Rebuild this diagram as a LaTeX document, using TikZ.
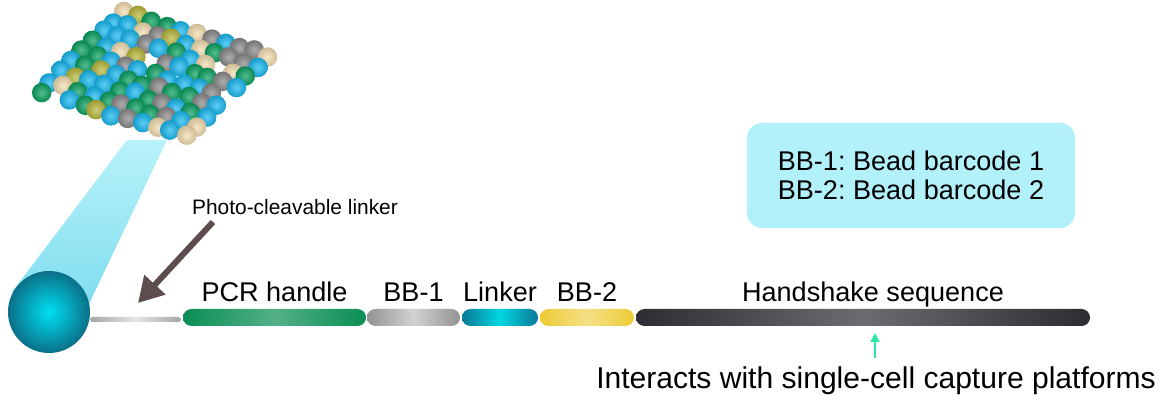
\documentclass[tikz,border=0pt]{standalone}
\usepackage{fontspec}
\setmainfont{Liberation Sans}
\usepackage{xcolor}
\usetikzlibrary{arrows.meta}

\definecolor{cblue}{HTML}{18B8F0}
\definecolor{cgreen}{HTML}{0AA060}
\definecolor{cgrey}{HTML}{8A8A8A}
\definecolor{ccream}{HTML}{F2DDB0}
\definecolor{colive}{HTML}{B8B83C}
\definecolor{conetop}{HTML}{B8F2FA}
\definecolor{conebot}{HTML}{80DEEE}
\definecolor{beadlight}{HTML}{00E0F4}
\definecolor{beaddark}{HTML}{0A7088}
\definecolor{boxcyan}{HTML}{B2F0FA}
\definecolor{arrowbrown}{HTML}{5E4D4F}
\definecolor{mintgreen}{HTML}{2EE6A6}
\definecolor{pcrgreen}{HTML}{0A8E55}
\definecolor{linkteal}{HTML}{0A7896}
\definecolor{bbyellow}{HTML}{EDCB35}
\definecolor{shakedark}{HTML}{2E2C33}

\frenchspacing
\begin{document}
\begin{tikzpicture}[x=0.2mm, y=-0.2mm,
  bar node/.style={rectangle, rounded corners=1.7mm, minimum height=3.4mm, inner sep=0pt},
  label node/.style={anchor=base, inner sep=0pt, font=\fontsize{15.4}{18}\selectfont}]
\useasboundingbox (0,0) rectangle (1162,395);

% light cone from the bead up to its surface
\shade[top color=conetop, bottom color=conebot] (127,140) -- (167,140) -- (88,306) -- (12,292) -- cycle;

% surface of the bead, packed with little spheres
\pgfmathsetseed{11}
\pgfmathdeclarerandomlist{beadcols}{{cblue}{cblue}{cblue}{cblue}{cblue}{cgreen}{cgreen}{cgreen}{cgreen}{cgreen}{cgrey}{cgrey}{cgrey}{cgrey}{ccream}{ccream}{colive}}
\foreach \i in {8,...,0}
  \foreach \j in {0,...,10}{
    \pgfmathrandomitem{\col}{beadcols}
    \pgfmathrandominteger{\k}{1}{20}
    \pgfmathsetmacro{\bx}{40+83*\i/8+145*\j/10+2*rand}
    \pgfmathsetmacro{\by}{92-80*\i/8+44*\j/10+2*rand}
    \ifnum\k>1
      \shade[inner color=\col!70!white, outer color=\col!85!black] (\bx,\by) circle (1.95mm);
    \fi
  }

% the bead
\node[circle, minimum size=16.4mm, inner sep=0pt, inner color=beadlight, outer color=beaddark] (1) at (49,312) {};

% oligo parts
\node[bar node, rounded corners=0.5mm, minimum height=1mm, minimum width=18.2mm,
  left color=gray!70, right color=gray!70, middle color=gray!20] (2) at (135.5,319.5) {};
\node[bar node, minimum width=36.6mm, left color=pcrgreen, right color=pcrgreen, middle color=pcrgreen!70!white] (3) at (274.5,317.5) {};
\node[bar node, minimum width=18.6mm, left color=gray!85, right color=gray!85, middle color=gray!35] (4) at (413.5,317.5) {};
\node[bar node, minimum width=15.2mm, left color=linkteal, right color=linkteal, middle color=cyan!70!linkteal] (5) at (500,317.5) {};
\node[bar node, minimum width=18.8mm, left color=bbyellow, right color=bbyellow, middle color=bbyellow!60!white] (6) at (587,317.5) {};
\node[bar node, minimum width=90.8mm, left color=shakedark, right color=shakedark, middle color=shakedark!70!white] (7) at (863,317.5) {};

% part names
\node[label node] (8) at (274.5,302) {PCR handle};
\node[label node] (9) at (413.5,302) {BB-1};
\node[label node] (10) at (500,302) {Linker};
\node[label node] (11) at (587,302) {BB-2};
\node[label node] (12) at (873,302) {Handshake sequence};

% photo-cleavable linker pointer
\node[anchor=base, inner sep=0pt, font=\fontsize{11.9}{13}\selectfont] (13) at (295,215) {Photo-cleavable linker};
\coordinate (14) at (213,222);
\coordinate (15) at (138,303);
\draw[-{Triangle[length=5mm,width=5.5mm]}, line width=1.2mm, draw=arrowbrown] (14) -- (15);

% handshake pointer
\node[anchor=base, inner sep=0pt, font=\fontsize{17.1}{20}\selectfont] (16) at (876,388) {Interacts with single-cell capture platforms};
\coordinate (17) at (875,358);
\coordinate (18) at (875,333);
\draw[-{Triangle[length=1.8mm,width=1.8mm]}, line width=0.35mm, draw=mintgreen] (17) -- (18);

% key to the barcodes
\node[rounded corners=3mm, fill=boxcyan, minimum width=65.6mm, minimum height=21mm, align=left,
  font=\fontsize{15.4}{16.5}\selectfont] (19) at (911,175.5) {BB-1: Bead barcode 1\\BB-2: Bead barcode 2};
\end{tikzpicture}
\end{document}
